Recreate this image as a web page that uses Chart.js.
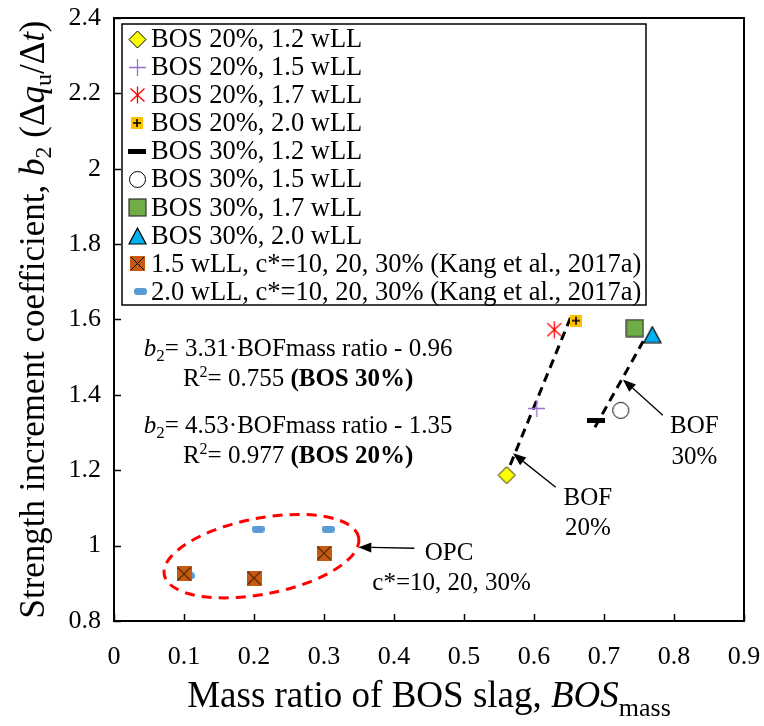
<!DOCTYPE html>
<html>
<head>
<meta charset="utf-8">
<script src="https://cdn.jsdelivr.net/npm/chart.js@4.4.1/dist/chart.umd.min.js"></script>
<style>
  html, body { margin: 0; padding: 0; background: #fff; }
  #wrap { width: 764px; height: 726px; }
</style>
</head>
<body>
<div id="wrap"><canvas id="myChart" width="764" height="726"></canvas></div>
<script>
const xTicks = [0, 0.1, 0.2, 0.3, 0.4, 0.5, 0.6, 0.7, 0.8, 0.9];
const xTickLabels = ["0", "0.1", "0.2", "0.3", "0.4", "0.5", "0.6", "0.7", "0.8", "0.9"];
const yTicks = [0.8, 1, 1.2, 1.4, 1.6, 1.8, 2, 2.2, 2.4];
const yTickLabels = ["0.8", "1", "1.2", "1.4", "1.6", "1.8", "2", "2.2", "2.4"];

// one point per BOS mix
const bosLabels = [
    "BOS 20%, 1.2 wLL", "BOS 20%, 1.5 wLL", "BOS 20%, 1.7 wLL", "BOS 20%, 2.0 wLL",
    "BOS 30%, 1.2 wLL", "BOS 30%, 1.5 wLL", "BOS 30%, 1.7 wLL", "BOS 30%, 2.0 wLL",
];
const bosX = [0.561, 0.604, 0.629, 0.660, 0.688, 0.724, 0.744, 0.769];
const bosY = [1.187, 1.364, 1.573, 1.597, 1.332, 1.359, 1.577, 1.560];

// Kang et al. (2017a), OPC
const kangLabels = [
    "1.5 wLL, c*=10, 20, 30% (Kang et al., 2017a)",
    "2.0 wLL, c*=10, 20, 30% (Kang et al., 2017a)",
];
const kang15X = [0.1, 0.2, 0.3];
const kang15Y = [0.925, 0.914, 0.98];
const kang20X = [0.106, 0.206, 0.306];
const kang20Y = [0.92, 1.044, 1.044];

// trend lines (end points)
const fit20X = [0.566, 0.654];
const fit20Y = [1.214, 1.613];
const fit30X = [0.687, 0.756];
const fit30Y = [1.314, 1.542];

const FONT = '"Liberation Serif", "Times New Roman", serif';
const F = (size, style) => (style || "") + " " + size + "px " + FONT;

function makeMarker(w, h, draw) {
    const c = document.createElement("canvas");
    c.width = w;
    c.height = h;
    draw(c.getContext("2d"));
    return c;
}

const bosMarkers = [
    makeMarker(19, 19, (g) => {
        g.beginPath();
        g.moveTo(9.5, 1); g.lineTo(18, 9.5); g.lineTo(9.5, 18); g.lineTo(1, 9.5);
        g.closePath();
        g.fillStyle = "#ffff00"; g.fill();
        g.strokeStyle = "#000"; g.lineWidth = 1; g.stroke();
    }),
    makeMarker(17, 17, (g) => {
        g.strokeStyle = "#9a70cf"; g.lineWidth = 1.3;
        g.beginPath();
        g.moveTo(8.5, 0); g.lineTo(8.5, 17); g.moveTo(0, 8.5); g.lineTo(17, 8.5);
        g.stroke();
    }),
    makeMarker(17, 18, (g) => {
        g.strokeStyle = "#ff0000"; g.lineWidth = 1.3;
        g.beginPath();
        g.moveTo(8.5, 0.5); g.lineTo(8.5, 17.5);
        g.moveTo(1.5, 2.5); g.lineTo(15.5, 15.5);
        g.moveTo(15.5, 2.5); g.lineTo(1.5, 15.5);
        g.stroke();
    }),
    makeMarker(12, 12, (g) => {
        g.fillStyle = "#ffc000"; g.fillRect(0, 0, 12, 12);
        g.strokeStyle = "#000"; g.lineWidth = 1.6;
        g.beginPath();
        g.moveTo(6, 2); g.lineTo(6, 10); g.moveTo(2, 6); g.lineTo(10, 6);
        g.stroke();
    }),
    makeMarker(18, 5, (g) => {
        g.fillStyle = "#000"; g.fillRect(0, 0, 18, 5);
    }),
    makeMarker(19, 19, (g) => {
        g.beginPath(); g.arc(9.5, 9.5, 8, 0, Math.PI * 2);
        g.fillStyle = "#fff"; g.fill();
        g.strokeStyle = "#000"; g.lineWidth = 1; g.stroke();
    }),
    makeMarker(19, 19, (g) => {
        g.fillStyle = "#70ad47"; g.fillRect(1, 1, 17, 17);
        g.strokeStyle = "#333"; g.lineWidth = 1.2; g.strokeRect(1, 1, 17, 17);
    }),
    makeMarker(19, 18, (g) => {
        g.beginPath();
        g.moveTo(9.5, 1); g.lineTo(18, 17); g.lineTo(1, 17);
        g.closePath();
        g.fillStyle = "#00b0f0"; g.fill();
        g.strokeStyle = "#000"; g.lineWidth = 1.2; g.stroke();
    }),
];

const kangMarkers = [
    makeMarker(15, 15, (g) => {
        g.fillStyle = "#c55a11"; g.fillRect(0, 0, 15, 15);
        g.strokeStyle = "#000"; g.lineWidth = 1;
        g.beginPath();
        g.moveTo(1, 1); g.lineTo(14, 14); g.moveTo(14, 1); g.lineTo(1, 14);
        g.stroke();
    }),
    makeMarker(13, 7, (g) => {
        g.fillStyle = "#5b9bd5";
        g.beginPath();
        g.roundRect(0, 0, 13, 7, 3);
        g.fill();
    }),
];

const datasets = [];
bosLabels.forEach((label, i) => {
    datasets.push({
        label: label,
        data: [{ x: bosX[i], y: bosY[i] }],
        pointStyle: bosMarkers[i],
        pointRadius: 8,
        order: 1,
    });
});
[[kang15X, kang15Y], [kang20X, kang20Y]].forEach(([xs, ys], i) => {
    datasets.push({
        label: kangLabels[i],
        data: xs.map((x, k) => ({ x: x, y: ys[k] })),
        pointStyle: kangMarkers[i],
        pointRadius: 7,
        order: 1,
    });
});
[[fit20X, fit20Y], [fit30X, fit30Y]].forEach(([xs, ys]) => {
    datasets.push({
        label: "",
        isFit: true,
        type: "line",
        data: xs.map((x, k) => ({ x: x, y: ys[k] })),
        borderColor: "#000",
        borderWidth: 3,
        borderDash: [9, 6],
        pointRadius: 0,
        order: 2,
    });
});

function drawRuns(ctx, runs, x, y, align) {
    let total = 0;
    runs.forEach((r) => {
        ctx.font = r.font;
        r.w = ctx.measureText(r.t).width;
        total += r.w;
    });
    let cx = align === "center" ? x - total / 2 : x;
    ctx.textAlign = "left";
    ctx.textBaseline = "alphabetic";
    runs.forEach((r) => {
        ctx.font = r.font;
        ctx.fillText(r.t, cx, y + (r.dy || 0));
        cx += r.w;
    });
}

function arrow(ctx, x1, y1, x2, y2) {
    const a = Math.atan2(y2 - y1, x2 - x1);
    const len = 13, half = 5;
    const bx = x2 - len * Math.cos(a), by = y2 - len * Math.sin(a);
    ctx.beginPath();
    ctx.moveTo(x1, y1);
    ctx.lineTo(bx, by);
    ctx.lineWidth = 1.3;
    ctx.stroke();
    ctx.beginPath();
    ctx.moveTo(x2, y2);
    ctx.lineTo(bx + half * Math.sin(a), by - half * Math.cos(a));
    ctx.lineTo(bx - half * Math.sin(a), by + half * Math.cos(a));
    ctx.closePath();
    ctx.fill();
}

function plotBox(chart) {
    const xs = chart.scales.x, ys = chart.scales.y;
    return {
        left: xs.getPixelForValue(xs.min),
        right: xs.getPixelForValue(xs.max),
        top: ys.getPixelForValue(ys.max),
        bottom: ys.getPixelForValue(ys.min),
    };
}

const frameAndTicks = {
    id: "frameAndTicks",
    afterDatasetsDraw(chart) {
        const ctx = chart.ctx;
        const a = plotBox(chart);
        const xs = chart.scales.x, ys = chart.scales.y;
        ctx.save();
        ctx.strokeStyle = "#000";
        ctx.lineWidth = 1.5;
        ctx.beginPath();
        xTicks.forEach((v) => {
            const p = Math.round(xs.getPixelForValue(v)) + 0.5;
            ctx.moveTo(p, a.bottom);
            ctx.lineTo(p, a.bottom - 7);
        });
        yTicks.forEach((v) => {
            const p = Math.round(ys.getPixelForValue(v)) + 0.5;
            ctx.moveTo(a.left, p);
            ctx.lineTo(a.left + 7, p);
        });
        ctx.stroke();
        ctx.lineWidth = 2;
        ctx.strokeRect(a.left, a.top, a.right - a.left, a.bottom - a.top);
        ctx.restore();
    },
};

const notes = {
    id: "notes",
    afterDatasetsDraw(chart) {
        const ctx = chart.ctx;
        const xs = chart.scales.x, ys = chart.scales.y;
        const px = (v) => xs.getPixelForValue(v);
        const py = (v) => ys.getPixelForValue(v);
        ctx.save();
        ctx.fillStyle = "#000";
        ctx.strokeStyle = "#000";

        // OPC ellipse
        ctx.beginPath();
        ctx.ellipse(px(0.2107), py(0.972), 99, 38, -0.19, 0, Math.PI * 2);
        ctx.strokeStyle = "#ff0000";
        ctx.lineWidth = 3;
        ctx.setLineDash([10, 7]);
        ctx.stroke();
        ctx.setLineDash([]);
        ctx.strokeStyle = "#000";

        arrow(ctx, px(0.631), py(1.155), px(0.570), py(1.245));
        arrow(ctx, px(0.784), py(1.346), px(0.727), py(1.441));
        arrow(ctx, px(0.429), py(0.993), px(0.349), py(0.996));

        ctx.textAlign = "center";
        ctx.textBaseline = "alphabetic";
        ctx.font = F(25);
        ctx.fillText("BOF", px(0.677), py(1.108));
        ctx.fillText("20%", px(0.677), py(1.028));
        ctx.fillText("BOF", px(0.829), py(1.299));
        ctx.fillText("30%", px(0.829), py(1.217));
        ctx.textAlign = "left";
        ctx.fillText("OPC", px(0.444), py(0.962));
        ctx.fillText("c*=10, 20, 30%", px(0.369), py(0.882));

        const cx = px(0.263);
        drawRuns(ctx, [
            { t: "b", font: F(25, "italic") },
            { t: "2", font: F(17), dy: 5 },
            { t: "= 3.31\u00b7BOFmass ratio - 0.96", font: F(25) },
        ], cx, py(1.503), "center");
        drawRuns(ctx, [
            { t: "R", font: F(25) },
            { t: "2", font: F(16), dy: -9 },
            { t: "= 0.755 ", font: F(25) },
            { t: "(BOS 30%)", font: F(25, "bold") },
        ], cx, py(1.424), "center");
        drawRuns(ctx, [
            { t: "b", font: F(25, "italic") },
            { t: "2", font: F(17), dy: 5 },
            { t: "= 4.53\u00b7BOFmass ratio - 1.35", font: F(25) },
        ], cx, py(1.299), "center");
        drawRuns(ctx, [
            { t: "R", font: F(25) },
            { t: "2", font: F(16), dy: -9 },
            { t: "= 0.977 ", font: F(25) },
            { t: "(BOS 20%)", font: F(25, "bold") },
        ], cx, py(1.219), "center");

        // axis titles
        const a = plotBox(chart);
        drawRuns(ctx, [
            { t: "Mass ratio of BOS slag, ", font: F(37) },
            { t: "BOS", font: F(37, "italic") },
            { t: "mass", font: F(26), dy: 9 },
        ], (a.left + a.right) / 2, 707, "center");
        ctx.translate(44, (a.top + a.bottom) / 2);
        ctx.rotate(-Math.PI / 2);
        drawRuns(ctx, [
            { t: "Strength increment coefficient, ", font: F(35) },
            { t: "b", font: F(35, "italic") },
            { t: "2", font: F(24), dy: 7 },
            { t: " (\u0394", font: F(35) },
            { t: "q", font: F(35, "italic") },
            { t: "u", font: F(24), dy: 7 },
            { t: "/\u0394", font: F(35) },
            { t: "t", font: F(35, "italic") },
            { t: ")", font: F(35) },
        ], 0, 0, "center");
        ctx.restore();
    },
};

const legendBox = {
    id: "legendBox",
    afterDraw(chart) {
        const ctx = chart.ctx;
        const a = plotBox(chart);
        const items = chart.data.datasets.filter((d) => !d.isFit);
        const left = a.left + 8, top = a.top + 6, w = 524, rowH = 28.1;
        const h = items.length * rowH;
        ctx.save();
        ctx.fillStyle = "#fff";
        ctx.fillRect(left, top, w, h);
        ctx.strokeStyle = "#000";
        ctx.lineWidth = 1.5;
        ctx.strokeRect(left, top, w, h);
        ctx.font = F(26.5);
        ctx.fillStyle = "#000";
        ctx.textAlign = "left";
        ctx.textBaseline = "middle";
        items.forEach((d, i) => {
            const cy = top + 15 + i * rowH;
            const m = d.pointStyle;
            const mx = i === items.length - 1 ? 18 : 15;
            ctx.drawImage(m, Math.round(left + mx - m.width / 2), Math.round(cy - m.height / 2));
            ctx.fillText(d.label, left + 29, cy + 1);
        });
        ctx.restore();
    },
};

const ctx1 = document.getElementById("myChart");

new Chart(ctx1, {
    type: "scatter",
    data: { datasets: datasets },
    options: {
        responsive: false,
        animation: false,
        events: [],
        layout: { padding: { left: 0, right: 20, top: 18, bottom: 0 } },
        plugins: {
            legend: { display: false },
            tooltip: { enabled: false },
        },
        scales: {
            x: {
                type: "linear",
                min: 0,
                max: 0.9,
                afterBuildTicks: (s) => { s.ticks = xTicks.map((v) => ({ value: v })); },
                afterFit: (s) => {
                    s.height = 105;
                    s.paddingLeft = 0;
                    s.paddingRight = 0;
                },
                ticks: {
                    color: "#000",
                    font: { family: FONT, size: 26 },
                    padding: 21,
                    maxRotation: 0,
                    autoSkip: false,
                    callback: (v, i) => xTickLabels[i],
                },
                grid: { display: false, drawTicks: false, tickLength: 0 },
                border: { display: false },
            },
            y: {
                type: "linear",
                min: 0.8,
                max: 2.4,
                afterBuildTicks: (s) => { s.ticks = yTicks.map((v) => ({ value: v })); },
                afterFit: (s) => {
                    s.width = 114;
                    s.paddingTop = 0;
                    s.paddingBottom = 0;
                },
                ticks: {
                    color: "#000",
                    font: { family: FONT, size: 26 },
                    padding: 13,
                    autoSkip: false,
                    callback: (v, i) => yTickLabels[i],
                },
                grid: { display: false, drawTicks: false, tickLength: 0 },
                border: { display: false },
            },
        },
    },
    plugins: [frameAndTicks, notes, legendBox],
});
</script>
</body>
</html>
